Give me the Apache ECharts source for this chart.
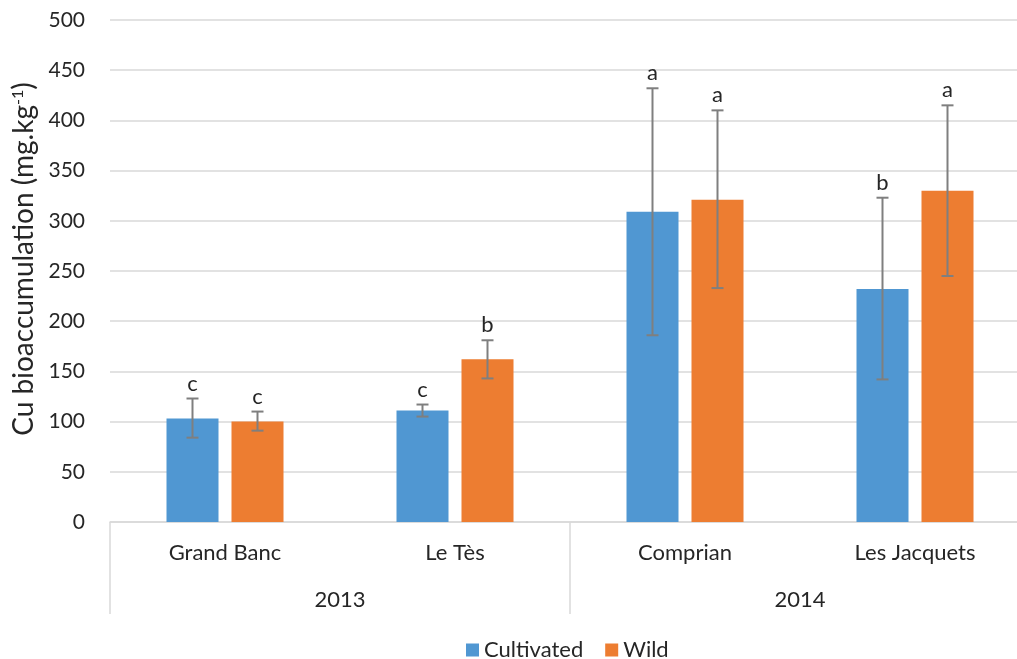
<!DOCTYPE html>
<html>
<head>
<meta charset="utf-8">
<script src="https://cdn.jsdelivr.net/npm/echarts@6/dist/echarts.min.js"></script>
<style>
  html,body{margin:0;padding:0;background:#fff;overflow:hidden;}
  #chart{width:1030px;height:659px;}
</style>
</head>
<body>
<div id="chart"></div>
<script>
// sites and years (two-level category axis)
const sites = ['Grand Banc', 'Le Tès', 'Comprian', 'Les Jacquets']
const years = ['2013', '2014']

// means
const cultivated = [103, 111, 309, 232]
const wild = [100, 162, 321, 330]

// error bar ends
const cultivatedHigh = [123, 117, 432, 323]
const cultivatedLow = [84, 105, 186, 142]
const wildHigh = [110, 181, 410, 415]
const wildLow = [91, 143, 233, 245]

// significance letters
const cultivatedLetters = ['c', 'c', 'a', 'b']
const wildLetters = ['c', 'b', 'a', 'a']

const blue = '#5097d2'
const orange = '#ed7d31'
const font = 'Lato'
const barW = 52
const gap = 13

let myChart = echarts.init(document.getElementById('chart'))

function errorSeries(name, low, high, letters, side){
    return {
        type: 'custom',
        name: name + '_err',
        xAxisIndex: 0,
        yAxisIndex: 0,
        z: 5,
        data: sites.map((s, i) => [i, low[i], high[i]]),
        renderItem: function(params, api){
            let off = side * (barW + gap) / 2
            let lo = api.coord([api.value(0), api.value(1)])
            let hi = api.coord([api.value(0), api.value(2)])
            let x = lo[0] + off
            let style = {stroke: '#7f7f7f', lineWidth: 2}
            return {
                type: 'group',
                children: [
                    {type: 'line', shape: {x1: x, y1: lo[1], x2: x, y2: hi[1]}, style: style},
                    {type: 'line', shape: {x1: x - 6, y1: lo[1], x2: x + 6, y2: lo[1]}, style: style},
                    {type: 'line', shape: {x1: x - 6, y1: hi[1], x2: x + 6, y2: hi[1]}, style: style},
                    {type: 'text', style: {
                        x: x, y: hi[1] - 4,
                        text: letters[params.dataIndex],
                        fill: '#262626',
                        font: '22px ' + font,
                        align: 'center',
                        verticalAlign: 'bottom'
                    }}
                ]
            }
        }
    }
}

myChart.setOption({
    animation: false,
    textStyle: {fontFamily: font},
    grid: {
        left: 110,
        right: 0,
        top: 20,
        bottom: 137
    },
    legend: {
        left: 466,
        top: 639,
        padding: 0,
        itemWidth: 13,
        itemHeight: 13,
        itemGap: 22,
        icon: 'rect',
        data: ['Cultivated', 'Wild'],
        textStyle: {fontSize: 22, color: '#262626', fontFamily: font}
    },
    xAxis: [
        {
            type: 'category',
            data: sites,
            axisLine: {lineStyle: {color: '#d9d9d9', width: 1.5}},
            axisTick: {show: false},
            axisLabel: {margin: 20, fontSize: 22, color: '#262626', fontFamily: font}
        },
        {
            type: 'category',
            data: years,
            position: 'bottom',
            offset: 92,
            axisLine: {show: false},
            axisTick: {show: true, inside: true, length: 92, lineStyle: {color: '#d9d9d9', width: 1.5}},
            axisLabel: {inside: true, margin: 3, fontSize: 22, color: '#262626', fontFamily: font}
        }
    ],
    yAxis: {
        type: 'value',
        min: 0,
        max: 500,
        interval: 50,
        axisLine: {show: false},
        axisTick: {show: false},
        splitLine: {lineStyle: {color: '#d9d9d9', width: 1.5}},
        axisLabel: {margin: 25, fontSize: 21, color: '#262626', fontFamily: font},
        name: '{a|Cu bioaccumulation (mg.kg}{s|-1}{a|)}',
        nameLocation: 'middle',
        nameRotate: 90,
        nameGap: 72,
        nameTextStyle: {
            padding: [0, 0, 0, 24],
            rich: {
                a: {fontSize: 28, color: '#262626', fontFamily: font},
                s: {fontSize: 16, color: '#262626', fontFamily: font, verticalAlign: 'top', padding: [0, 0, 10, 0]}
            }
        }
    },
    series: [
        {
            type: 'bar',
            name: 'Cultivated',
            data: cultivated,
            barWidth: barW,
            barGap: (gap / barW * 100) + '%',
            itemStyle: {color: blue}
        },
        {
            type: 'bar',
            name: 'Wild',
            data: wild,
            barWidth: barW,
            itemStyle: {color: orange}
        },
        errorSeries('Cultivated', cultivatedLow, cultivatedHigh, cultivatedLetters, -1),
        errorSeries('Wild', wildLow, wildHigh, wildLetters, 1)
    ]
})
</script>
</body>
</html>
